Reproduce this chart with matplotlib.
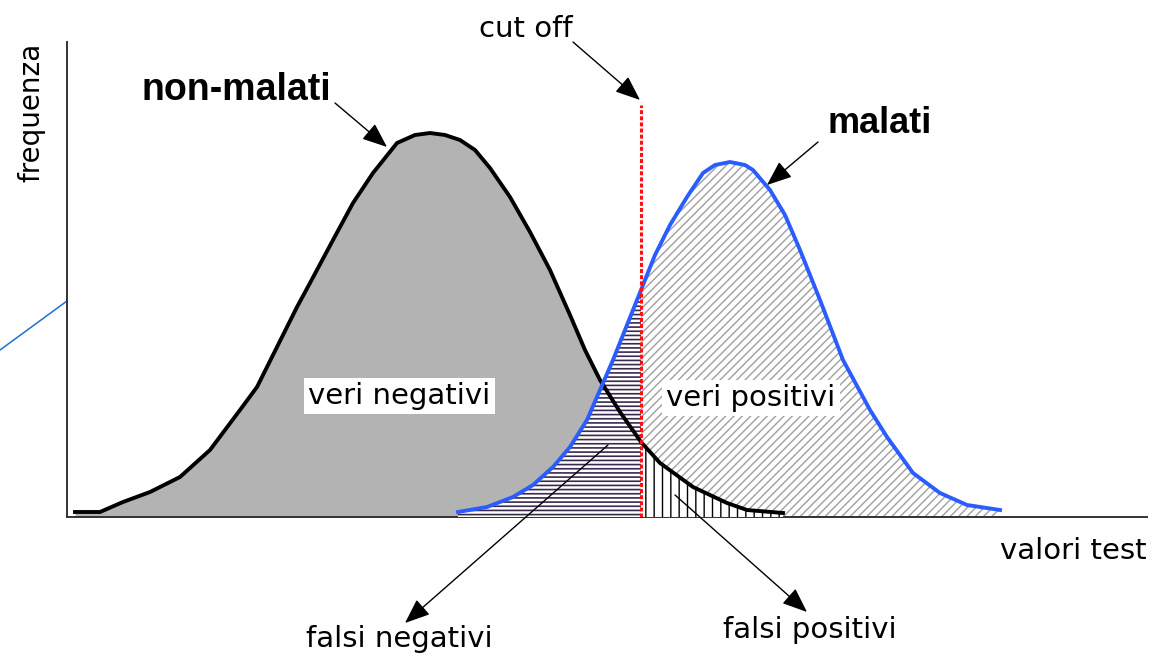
import matplotlib
matplotlib.use("Agg")
import matplotlib.pyplot as plt
import numpy as np

# points (test value, frequency), arbitrary units
non_malati_x = [8, 33, 56, 83, 113, 143, 173, 190, 210, 230, 243, 266, 286, 306, 330, 348,
                363, 378, 393, 408, 423, 443, 463, 483, 503, 518, 533, 553, 574, 593, 626,
                660, 680, 716]
non_malati_y = [5, 5, 15, 25, 40, 67, 107, 130, 170, 210, 234, 277, 314, 344, 374, 382,
                384, 382, 377, 367, 349, 320, 285, 247, 202, 167, 137, 105, 75, 54, 30,
                14, 7, 4]

malati_x = [391, 420, 446, 466, 486, 503, 520, 533, 546, 558, 574, 588, 603, 620, 636, 648,
            663, 678, 686, 703, 718, 733, 753, 776, 803, 820, 846, 873, 900, 933]
malati_y = [5, 10, 20, 32, 50, 70, 97, 127, 157, 187, 227, 262, 292, 320, 344, 352,
            355, 352, 347, 327, 302, 267, 217, 157, 107, 80, 44, 24, 12, 7]

CUT_OFF = 574
CUT_TOP = 412

plt.rcParams["hatch.linewidth"] = 1.0
plt.rcParams["font.family"] = "DejaVu Sans"

nx, ny = np.array(non_malati_x), np.array(non_malati_y)
mx, my = np.array(malati_x), np.array(malati_y)

fig = plt.figure(figsize=(11.63, 6.56), dpi=100)
ax = fig.add_axes([67 / 1163, 139 / 656, 1080 / 1163, 475 / 656])
ax.set_xlim(0, 1080)
ax.set_ylim(0, 475)
ax.set_xticks([])
ax.set_yticks([])
for side in ("top", "right"):
    ax.spines[side].set_visible(False)
for side in ("left", "bottom"):
    ax.spines[side].set_linewidth(1.4)
    ax.spines[side].set_color("#333333")

# veri negativi: everything under the healthy curve
ax.fill_between(nx, ny, 0, color="#b3b3b3", lw=0, zorder=1)

# veri positivi: under the sick curve, right of the cut off
right_m = mx >= CUT_OFF
ax.fill_between(mx[right_m], my[right_m], 0, facecolor="white", edgecolor="#a0a0a0",
                hatch="////", lw=0, zorder=2)

# falsi positivi: healthy curve right of the cut off
right_n = nx >= CUT_OFF
ax.fill_between(nx[right_n], ny[right_n], 0, facecolor="white", edgecolor="black",
                hatch="||", lw=0, zorder=3)

# falsi negativi: sick curve left of the cut off, heavier stripes
left_m = mx <= CUT_OFF
with plt.rc_context({"hatch.linewidth": 1.2}):
    fn = ax.fill_between(mx[left_m], my[left_m], 0, facecolor="white", edgecolor="#3a2a4e",
                         hatch="----", lw=0, zorder=4)
if hasattr(fn, "set_hatch_linewidth"):
    fn.set_hatch_linewidth(1.2)

ax.plot(nx, ny, color="black", lw=2.8, solid_joinstyle="round", zorder=5)
ax.plot(mx, my, color="#2b5cff", lw=2.8, solid_joinstyle="round", zorder=5)
ax.plot([CUT_OFF, CUT_OFF], [0, CUT_TOP], color="#ff1010", lw=2.2,
        linestyle=(0, (1.3, 0.7)), zorder=6)

# stray line left of the y axis in the original
ax.plot([-67, 0], [167, 216], color="#1f6fd0", lw=1.1, clip_on=False)

fs = 21
ax.text(-36, 405, "frequenza", rotation=90, ha="center", va="center", fontsize=20)
ax.text(1080, -42, "valori test", ha="right", va="baseline", fontsize=fs)
ax.text(459, 480, "cut off", ha="center", va="baseline", fontsize=fs)
ax.text(75, 417, "non-malati", ha="left", va="baseline", fontsize=27,
        family="Liberation Sans", weight="bold")
ax.text(760, 384, "malati", ha="left", va="baseline", fontsize=26,
        family="Liberation Sans", weight="bold")

box = dict(boxstyle="square,pad=0.15", facecolor="white", edgecolor="none")
ax.text(332, 121, "veri negativi", ha="center", va="center", fontsize=fs, bbox=box, zorder=7)
ax.text(684, 119, "veri positivi", ha="center", va="center", fontsize=fs, bbox=box, zorder=7)

arrow = dict(arrowstyle="-|>,head_length=0.55,head_width=0.22", color="black", lw=1.0,
             mutation_scale=28, shrinkA=0, shrinkB=0)
ax.annotate("", xy=(320, 370), xytext=(268, 414), arrowprops=arrow,
            annotation_clip=False, zorder=8)
ax.annotate("", xy=(573, 417), xytext=(506, 475), arrowprops=arrow,
            annotation_clip=False, zorder=8)
ax.annotate("", xy=(700, 332), xytext=(751, 375), arrowprops=arrow,
            annotation_clip=False, zorder=8)
ax.annotate("", xy=(338, -106), xytext=(541, 72), arrowprops=arrow,
            annotation_clip=False, zorder=8)
ax.annotate("", xy=(740, -95), xytext=(608, 22), arrowprops=arrow,
            annotation_clip=False, zorder=8)
ax.text(332, -130, "falsi negativi", ha="center", va="baseline", fontsize=fs)
ax.text(743, -121, "falsi positivi", ha="center", va="baseline", fontsize=fs)

fig.savefig("out.png", dpi=100)
